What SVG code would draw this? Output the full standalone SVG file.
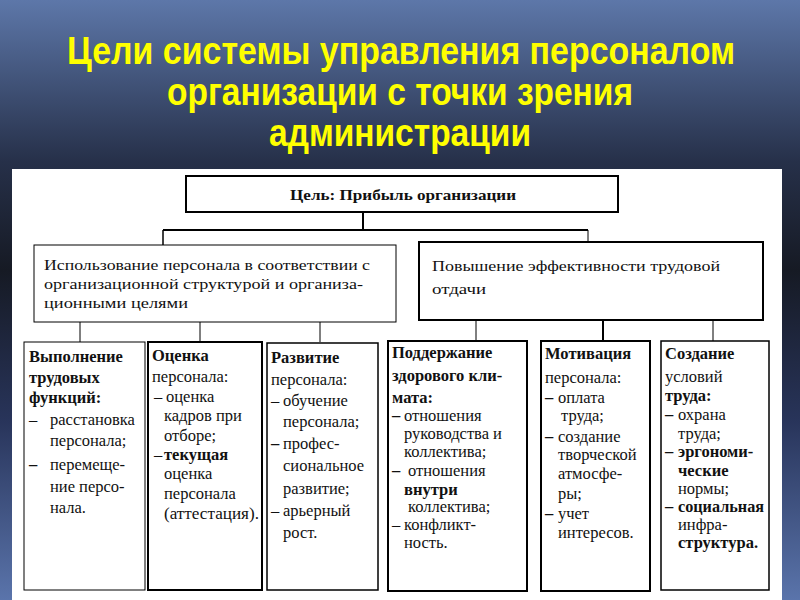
<svg xmlns="http://www.w3.org/2000/svg" width="800" height="600" viewBox="0 0 800 600">
<defs>
<linearGradient id="bg" x1="0" y1="0" x2="0" y2="1">
<stop offset="0" stop-color="#5d77a9"/>
<stop offset="0.27" stop-color="#263049"/>
<stop offset="0.45" stop-color="#161a24"/>
<stop offset="0.7" stop-color="#28345a"/>
<stop offset="1" stop-color="#5a74ab"/>
</linearGradient>
</defs>
<style>
.title{font-family:"Liberation Sans Narrow","Liberation Sans",Arial,sans-serif;font-weight:bold;font-size:39px;fill:#ffff00;text-anchor:middle}
.box{fill:#fff;stroke:#000}
.t{font-family:"Liberation Serif","Times New Roman",serif;font-size:15.5px;fill:#111}
.s{font-family:"Liberation Serif","Times New Roman",serif;font-size:16.5px;fill:#111}
.b{font-weight:bold}
.ln{stroke:#000;fill:none}
</style>
<rect x="0" y="0" width="800" height="600" fill="url(#bg)"/>
<text class="title" x="401" y="64" textLength="668" lengthAdjust="spacingAndGlyphs">Цели системы управления персоналом</text>
<text class="title" x="400" y="105" textLength="466" lengthAdjust="spacingAndGlyphs">организации с точки зрения</text>
<text class="title" x="400" y="146" textLength="262" lengthAdjust="spacingAndGlyphs">администрации</text>
<rect x="12" y="169" width="770" height="431" fill="#fff"/>

<g id="connectors">
<line class="ln" x1="363" y1="212" x2="363" y2="230" stroke-width="2"/>
<line class="ln" x1="163" y1="230" x2="588" y2="230" stroke-width="2"/>
<line class="ln" x1="163" y1="230" x2="163" y2="245" stroke-width="1.5"/>
<line class="ln" x1="588" y1="230" x2="588" y2="242" stroke-width="1"/>
<line class="ln" x1="80" y1="322" x2="80" y2="342" stroke-width="1"/>
<line class="ln" x1="200" y1="322" x2="200" y2="342" stroke-width="1"/>
<line class="ln" x1="320" y1="322" x2="320" y2="342" stroke-width="1"/>
<line class="ln" x1="476" y1="320" x2="476" y2="341" stroke-width="1"/>
<line class="ln" x1="603" y1="320" x2="603" y2="341" stroke-width="2"/>
<line class="ln" x1="713" y1="320" x2="713" y2="341" stroke-width="1"/>
</g>

<g id="goal">
<rect class="box" x="186" y="176" width="432" height="36" stroke-width="2"/>
<text class="t b" x="290" y="200" textLength="226" lengthAdjust="spacingAndGlyphs">Цель: Прибыль организации</text>
</g>

<g id="use">
<rect class="box" x="34" y="245" width="362" height="77" stroke-width="1"/>
<text class="t" x="44" y="270" textLength="326" lengthAdjust="spacingAndGlyphs">Использование персонала в соответствии с</text>
<text class="t" x="44" y="289" textLength="319" lengthAdjust="spacingAndGlyphs">организационной структурой и организа-</text>
<text class="t" x="44" y="308" textLength="144" lengthAdjust="spacingAndGlyphs">ционными целями</text>
</g>

<g id="efficiency">
<rect class="box" x="419" y="242" width="344" height="78" stroke-width="2"/>
<text class="t" x="432" y="271" textLength="288" lengthAdjust="spacingAndGlyphs">Повышение эффективности трудовой</text>
<text class="t" x="432" y="294" textLength="54" lengthAdjust="spacingAndGlyphs">отдачи</text>
</g>

<g id="functions">
<rect class="box" x="24" y="342" width="121" height="248" stroke-width="1"/>
<text class="s b" x="29" y="362">Выполнение</text>
<text class="s b" x="29" y="383">трудовых</text>
<text class="s b" x="29" y="403">функций:</text>
<text class="s" x="29" y="425">–</text><text class="s" x="50" y="425">расстановка</text>
<text class="s" x="50" y="446">персонала;</text>
<text class="s b" x="29" y="470">–</text><text class="s" x="50" y="470">перемеще-</text>
<text class="s" x="50" y="492">ние персо-</text>
<text class="s" x="50" y="513">нала.</text>
</g>

<g id="assessment">
<rect class="box" x="148" y="342" width="114" height="248" stroke-width="2"/>
<text class="s b" x="152" y="361">Оценка</text>
<text class="s" x="152" y="382">персонала:</text>
<text class="s" x="154" y="402">–</text><text class="s" x="166" y="402">оценка</text>
<text class="s" x="164" y="421">кадров при</text>
<text class="s" x="164" y="441">отборе;</text>
<text class="s" x="154" y="460">–</text><text class="s b" x="164" y="460">текущая</text>
<text class="s" x="164" y="479">оценка</text>
<text class="s" x="164" y="499">персонала</text>
<text class="s" x="164" y="519" textLength="95" lengthAdjust="spacingAndGlyphs">(аттестация).</text>
</g>

<g id="development">
<rect class="box" x="267" y="343" width="111" height="247" stroke-width="1.5"/>
<text class="s b" x="271" y="363">Развитие</text>
<text class="s" x="271" y="385">персонала:</text>
<text class="s" x="271" y="406">–</text><text class="s" x="283" y="406">обучение</text>
<text class="s" x="283" y="427">персонала;</text>
<text class="s b" x="271" y="449">–</text><text class="s" x="283" y="449">профес-</text>
<text class="s" x="283" y="471">сиональное</text>
<text class="s" x="283" y="494">развитие;</text>
<text class="s" x="271" y="516">–</text><text class="s" x="283" y="516">арьерный</text>
<text class="s" x="283" y="538">рост.</text>
</g>

<g id="climate">
<rect class="box" x="388" y="341" width="139" height="250" stroke-width="2"/>
<text class="s b" x="392" y="358">Поддержание</text>
<text class="s b" x="392" y="381">здорового кли-</text>
<text class="s b" x="392" y="403">мата:</text>
<text class="s b" x="392" y="421">–</text><text class="s" x="404" y="421">отношения</text>
<text class="s" x="404" y="439">руководства и</text>
<text class="s" x="404" y="457">коллектива;</text>
<text class="s b" x="392" y="476">–</text><text class="s" x="408" y="476">отношения</text>
<text class="s b" x="404" y="495">внутри</text>
<text class="s" x="408" y="512">коллектива;</text>
<text class="s" x="392" y="530">–</text><text class="s" x="404" y="530">конфликт-</text>
<text class="s" x="404" y="548">ность.</text>
</g>

<g id="motivation">
<rect class="box" x="541" y="341" width="109" height="250" stroke-width="2"/>
<text class="s b" x="545" y="359">Мотивация</text>
<text class="s" x="545" y="383">персонала:</text>
<text class="s b" x="545" y="403">–</text><text class="s" x="558" y="403">оплата</text>
<text class="s" x="561" y="421">труда;</text>
<text class="s b" x="545" y="442">–</text><text class="s" x="558" y="442">создание</text>
<text class="s" x="558" y="460">творческой</text>
<text class="s" x="558" y="479">атмосфе-</text>
<text class="s" x="558" y="499">ры;</text>
<text class="s b" x="545" y="519">–</text><text class="s" x="558" y="519">учет</text>
<text class="s" x="558" y="538">интересов.</text>
</g>

<g id="conditions">
<rect class="box" x="661" y="341" width="108" height="249" stroke-width="1.5"/>
<text class="s b" x="665" y="359">Создание</text>
<text class="s" x="665" y="382">условий</text>
<text class="s b" x="665" y="401">труда:</text>
<text class="s b" x="665" y="420">–</text><text class="s" x="678" y="420">охрана</text>
<text class="s" x="678" y="439">труда;</text>
<text class="s b" x="665" y="457">–</text><text class="s b" x="678" y="457">эргономи-</text>
<text class="s b" x="678" y="476">ческие</text>
<text class="s" x="678" y="494">нормы;</text>
<text class="s b" x="665" y="512">–</text><text class="s b" x="678" y="512" textLength="86" lengthAdjust="spacingAndGlyphs">социальная</text>
<text class="s" x="678" y="530">инфра-</text>
<text class="s b" x="678" y="548">структура.</text>
</g>
</svg>
